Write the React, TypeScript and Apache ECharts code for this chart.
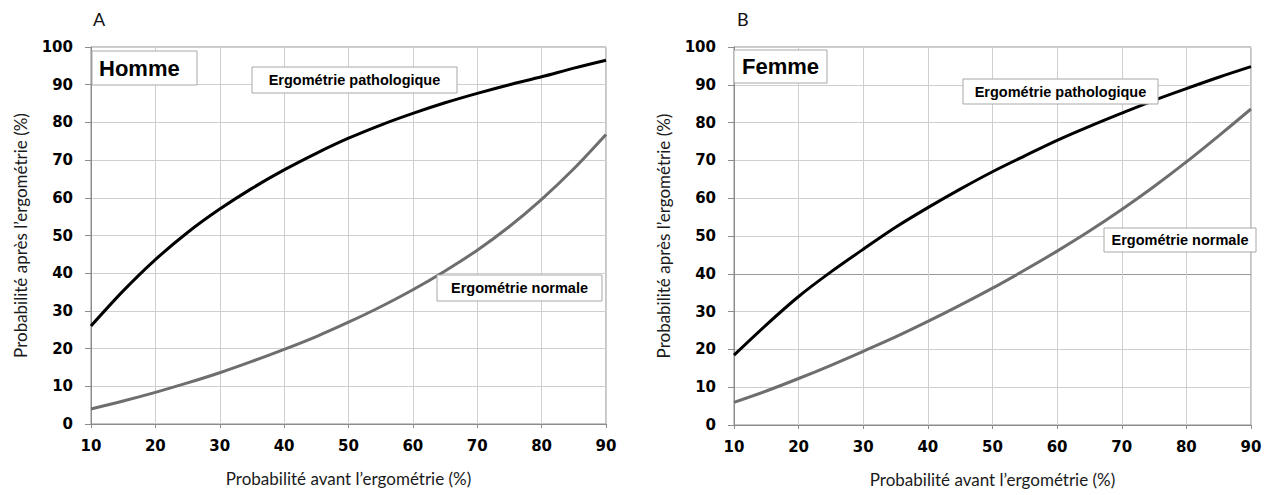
import React, { useEffect, useRef } from "react";
import * as echarts from "echarts";

const X_VALUES = [10, 15, 20, 25, 30, 35, 40, 45, 50, 55, 60, 65, 70, 75, 80, 85, 90];
const HOMME_PATHO = [26, 35.3, 43.6, 50.8, 57, 62.5, 67.4, 71.8, 75.8, 79.3, 82.4, 85.2, 87.7, 90, 92.1, 94.4, 96.5];
const HOMME_NORMAL = [4, 6.1, 8.4, 10.9, 13.6, 16.6, 19.8, 23.2, 27, 31.1, 35.6, 40.6, 46.1, 52.4, 59.6, 67.7, 76.8];
const FEMME_PATHO = [18.5, 26.5, 34, 40.5, 46.5, 52.3, 57.5, 62.4, 67, 71.2, 75.3, 79, 82.5, 85.9, 89, 92, 94.8];
const FEMME_NORMAL = [6, 9, 12.3, 15.8, 19.5, 23.3, 27.4, 31.7, 36.2, 41, 46, 51.3, 57, 63.1, 69.6, 76.5, 83.6];
const Y_TICKS = { min: 0, max: 100, interval: 10 };
const X_TICKS = { min: 10, max: 90, interval: 10 };

const pairs = (ys: number[]) => X_VALUES.map((x, i) => [x, ys[i]]);

const GRID_COLOR = "#cfcfcf";
const AXIS_COLOR = "#8c8c8c";

function box(x: number, y: number, w: number, h: number, label: string, font: any, align: string = "center", textX?: number) {
  return [
    {
      type: "rect",
      z: 100,
      shape: { x, y, width: w, height: h },
      style: { fill: "#ffffff", stroke: "#a8a8a8", lineWidth: 1 },
    },
    {
      type: "text",
      z: 101,
      x: textX !== undefined ? textX : x + w / 2,
      y: y + h / 2,
      style: {
        text: label,
        fill: "#000000",
        align,
        verticalAlign: "middle",
        ...font,
      },
    },
  ];
}

export default function App() {
  const ref = useRef<HTMLDivElement>(null);

  useEffect(() => {
    if (!ref.current) return;
    const chart = echarts.init(ref.current, undefined, { renderer: "svg" });

    const tickFont = { fontFamily: "DejaVu Sans", fontWeight: "bold", fontSize: 15, color: "#000" };
    const nameFont = { fontFamily: "Lato", fontSize: 17, color: "#1a1a1a" };

    const mkX = (gridIndex: number) => ({
      type: "value",
      gridIndex,
      ...X_TICKS,
      name: "Probabilité avant l’ergométrie (%)",
      nameLocation: "middle",
      nameGap: 46,
      nameTextStyle: nameFont,
      axisLine: { show: true, lineStyle: { color: AXIS_COLOR, width: 1 } },
      axisTick: { show: true, length: 4, lineStyle: { color: AXIS_COLOR } },
      axisLabel: { ...tickFont, margin: 14 },
      splitLine: { show: true, lineStyle: { color: GRID_COLOR, width: 1 } },
    });

    const mkY = (gridIndex: number, lineColors: any) => ({
      type: "value",
      gridIndex,
      ...Y_TICKS,
      name: "Probabilité après l’ergométrie (%)",
      nameLocation: "middle",
      nameGap: 62,
      nameTextStyle: nameFont,
      axisLine: { show: true, lineStyle: { color: AXIS_COLOR, width: 1 } },
      axisTick: { show: true, length: 6, lineStyle: { color: AXIS_COLOR } },
      axisLabel: { ...tickFont, margin: 18 },
      splitLine: { show: true, lineStyle: { color: lineColors, width: 1 } },
    });

    const femmeColors = [GRID_COLOR, GRID_COLOR, GRID_COLOR, GRID_COLOR, "#9a9a9a", GRID_COLOR, GRID_COLOR, GRID_COLOR, GRID_COLOR, GRID_COLOR, GRID_COLOR];

    const lineSeries = (xi: number, data: number[], color: string) => ({
      type: "line",
      xAxisIndex: xi,
      yAxisIndex: xi,
      data: pairs(data),
      smooth: 0.3,
      showSymbol: false,
      symbol: "none",
      lineStyle: { color, width: 3 },
      z: 5,
    });

    const labelFont = { fontFamily: "Liberation Sans", fontWeight: "bold", fontSize: 14.5 };
    const titleFont = { fontFamily: "Liberation Sans", fontWeight: "bold", fontSize: 22 };
    const panelFont = { fontFamily: "Lato", fontSize: 18 };

    chart.setOption({
      animation: false,
      backgroundColor: "#ffffff",
      grid: [
        { left: 91, top: 47, width: 515, height: 377, show: true, borderColor: AXIS_COLOR, borderWidth: 1, containLabel: false },
        { left: 734, top: 47, width: 517, height: 378, show: true, borderColor: AXIS_COLOR, borderWidth: 1, containLabel: false },
      ],
      xAxis: [mkX(0), mkX(1)],
      yAxis: [mkY(0, GRID_COLOR), mkY(1, femmeColors)],
      series: [
        lineSeries(0, HOMME_PATHO, "#000000"),
        lineSeries(0, HOMME_NORMAL, "#6e6e6e"),
        lineSeries(1, FEMME_PATHO, "#000000"),
        lineSeries(1, FEMME_NORMAL, "#6e6e6e"),
      ],
      graphic: [
        { type: "text", x: 93, y: 19, style: { text: "A", fill: "#111", align: "left", verticalAlign: "middle", ...panelFont } },
        { type: "text", x: 737, y: 19, style: { text: "B", fill: "#111", align: "left", verticalAlign: "middle", ...panelFont } },
        ...box(92, 51, 105, 34, "Homme", titleFont, "left", 99),
        ...box(734, 50, 93, 33, "Femme", titleFont, "left", 742),
        ...box(252, 67, 205, 26, "Ergométrie pathologique", labelFont),
        ...box(437, 275, 165, 26, "Ergométrie normale", labelFont),
        ...box(963, 79, 195, 25, "Ergométrie pathologique", labelFont),
        ...box(1104, 228, 152, 24, "Ergométrie normale", labelFont),
      ],
    });

    return () => chart.dispose();
  }, []);

  return <div ref={ref} style={{ position: "fixed", left: 0, top: 0, width: 1274, height: 495 }} />;
}
